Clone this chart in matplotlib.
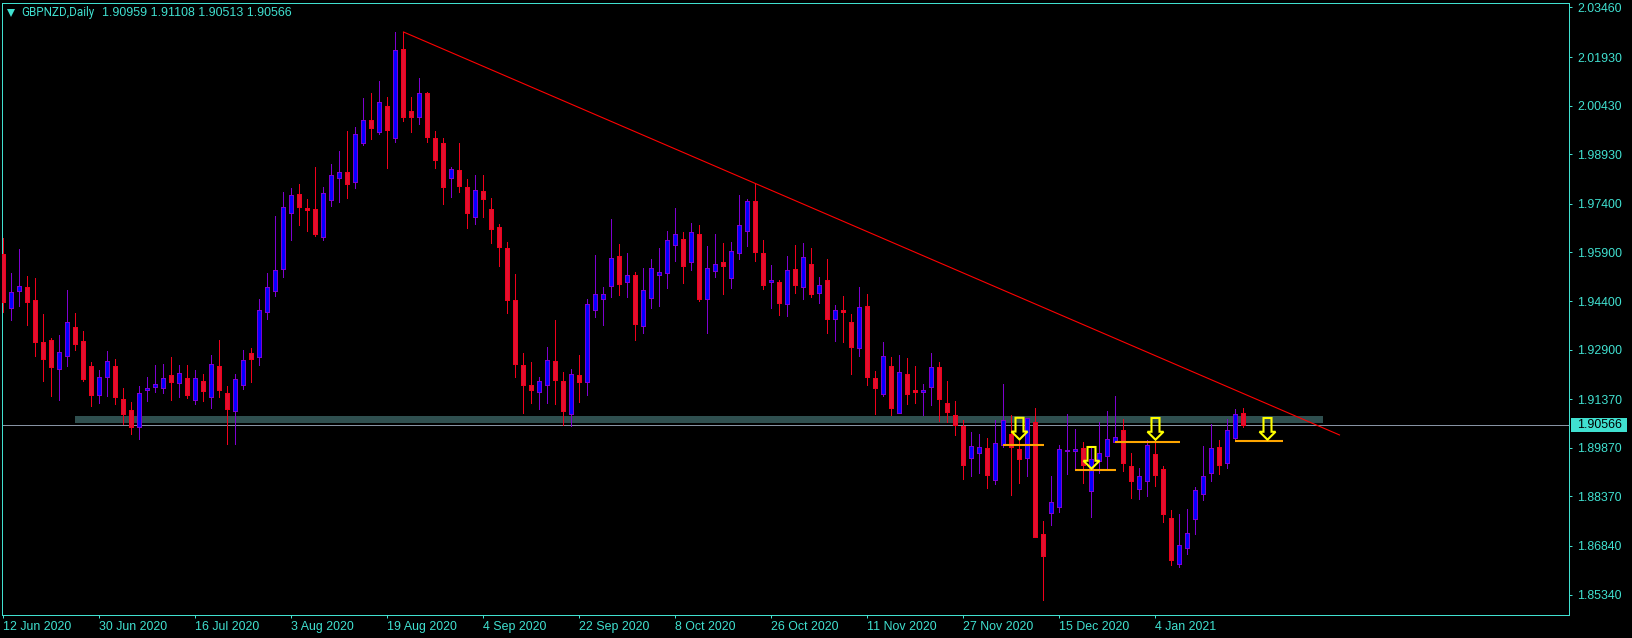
import numpy as np
import matplotlib
matplotlib.use('Agg')
import matplotlib.pyplot as plt
from matplotlib.lines import Line2D
from matplotlib.patches import Polygon, Rectangle

# daily candles
highs = [
    1.9635, 1.9526, 1.9601, 1.9517, 1.9511, 1.9400, 1.9326, 1.9335, 1.9474, 1.9403, 1.9348, 1.9252,
    1.9227, 1.9286, 1.9261, 1.9172, 1.9128, 1.9178, 1.9205, 1.9243, 1.9246, 1.9267, 1.9243, 1.9243,
    1.9227, 1.9215, 1.9273, 1.9320, 1.9178, 1.9215, 1.9289, 1.9295, 1.9446, 1.9526, 1.9702, 1.9777,
    1.9789, 1.9801, 1.9755, 1.9854, 1.9792, 1.9863, 1.9903, 1.9965, 1.9977, 2.0067, 2.0082, 2.0119,
    2.0070, 2.0270, 2.0270, 2.0070, 2.0128, 2.0085, 1.9965, 1.9943, 1.9854, 1.9928, 1.9817, 1.9829,
    1.9829, 1.9758, 1.9678, 1.9622, 1.9524, 1.9280, 1.9252, 1.9206, 1.9298, 1.9382, 1.9221, 1.9230,
    1.9273, 1.9446, 1.9582, 1.9483, 1.9693, 1.9616, 1.9588, 1.9530, 1.9542, 1.9570, 1.9604, 1.9656,
    1.9727, 1.9653, 1.9681, 1.9675, 1.9610, 1.9647, 1.9619, 1.9622, 1.9767, 1.9755, 1.9801, 1.9628,
    1.9551, 1.9505, 1.9579, 1.9613, 1.9619, 1.9604, 1.9514, 1.9570, 1.9428, 1.9455, 1.9400, 1.9483,
    1.9462, 1.9224, 1.9314, 1.9267, 1.9273, 1.9264, 1.9240, 1.9184, 1.9280, 1.9252, 1.9193, 1.9131,
    1.9073, 1.9036, 1.9030, 1.9017, 1.9073, 1.9184, 1.9088, 1.9008, 1.9079, 1.9110, 1.8761, 1.8900,
    1.8996, 1.9091, 1.9045, 1.9005, 1.8993, 1.9066, 1.9101, 1.9147, 1.9076, 1.8971, 1.8925, 1.9011,
    1.9011, 1.8931, 1.8795, 1.8783, 1.8798, 1.8866, 1.8993, 1.9061, 1.9011, 1.9076, 1.9107, 1.91108,
]
lows = [
    1.9407, 1.9381, 1.9425, 1.9366, 1.9270, 1.9193, 1.9147, 1.9135, 1.9240, 1.9289, 1.9193, 1.9116,
    1.9125, 1.9147, 1.9122, 1.9061, 1.9030, 1.9014, 1.9131, 1.9159, 1.9156, 1.9135, 1.9144, 1.9141,
    1.9122, 1.9131, 1.9110, 1.9144, 1.8999, 1.8999, 1.9169, 1.9190, 1.9243, 1.9385, 1.9456, 1.9514,
    1.9628, 1.9675, 1.9656, 1.9641, 1.9628, 1.9733, 1.9746, 1.9758, 1.9789, 1.9922, 1.9940, 1.9956,
    1.9851, 1.9931, 1.9996, 1.9962, 1.9986, 1.9931, 1.9851, 1.9740, 1.9761, 1.9776, 1.9665, 1.9678,
    1.9699, 1.9619, 1.9548, 1.9403, 1.9206, 1.9095, 1.9125, 1.9107, 1.9125, 1.9122, 1.9058, 1.9054,
    1.9128, 1.9150, 1.9391, 1.9366, 1.9453, 1.9459, 1.9453, 1.9320, 1.9341, 1.9419, 1.9425, 1.9480,
    1.9564, 1.9496, 1.9536, 1.9440, 1.9341, 1.9514, 1.9462, 1.9480, 1.9570, 1.9610, 1.9564, 1.9477,
    1.9419, 1.9397, 1.9394, 1.9465, 1.9446, 1.9452, 1.9434, 1.9341, 1.9317, 1.9314, 1.9215, 1.9270,
    1.9181, 1.9091, 1.9147, 1.9088, 1.9094, 1.9122, 1.9125, 1.9088, 1.9119, 1.9070, 1.9067, 1.9027,
    1.8891, 1.8900, 1.8909, 1.8863, 1.8875, 1.8990, 1.8841, 1.8878, 1.8900, 1.8713, 1.8517, 1.8749,
    1.8789, 1.8906, 1.8919, 1.8878, 1.8773, 1.8909, 1.8925, 1.9005, 1.8915, 1.8832, 1.8829, 1.8838,
    1.8869, 1.8758, 1.8625, 1.8619, 1.8659, 1.8721, 1.8826, 1.8885, 1.8906, 1.8925, 1.9011, 1.90513,
]
opens = [
    1.9585, 1.9420, 1.9472, 1.9482, 1.9443, 1.9314, 1.9320, 1.9231, 1.9271, 1.9360, 1.9317, 1.9240,
    1.9151, 1.9204, 1.9240, 1.9138, 1.9104, 1.9052, 1.9165, 1.9176, 1.9173, 1.9212, 1.9188, 1.9202,
    1.9133, 1.9193, 1.9145, 1.9240, 1.9156, 1.9102, 1.9182, 1.9280, 1.9268, 1.9405, 1.9470, 1.9540,
    1.9713, 1.9769, 1.9727, 1.9723, 1.9639, 1.9753, 1.9821, 1.9837, 1.9808, 1.9929, 1.9998, 1.9963,
    2.0041, 1.9944, 2.0217, 2.0026, 2.0009, 2.0081, 1.9942, 1.9927, 1.9821, 1.9843, 1.9791, 1.9700,
    1.9779, 1.9723, 1.9668, 1.9603, 1.9443, 1.9243, 1.9181, 1.9160, 1.9182, 1.9254, 1.9193, 1.9092,
    1.9212, 1.9191, 1.9413, 1.9447, 1.9487, 1.9579, 1.9500, 1.9520, 1.9364, 1.9450, 1.9521, 1.9525,
    1.9614, 1.9632, 1.9559, 1.9647, 1.9447, 1.9534, 1.9561, 1.9512, 1.9587, 1.9657, 1.9749, 1.9587,
    1.9500, 1.9499, 1.9432, 1.9539, 1.9484, 1.9554, 1.9466, 1.9505, 1.9386, 1.9412, 1.9375, 1.9296,
    1.9425, 1.9202, 1.9154, 1.9240, 1.9095, 1.9215, 1.9165, 1.9159, 1.9175, 1.9236, 1.9125, 1.9088,
    1.9054, 1.8954, 1.8972, 1.8985, 1.8889, 1.8996, 1.9030, 1.8983, 1.8954, 1.9067, 1.8721, 1.8787,
    1.8805, 1.8977, 1.8977, 1.8985, 1.8855, 1.8945, 1.8963, 1.9005, 1.9041, 1.8930, 1.8859, 1.8886,
    1.8968, 1.8921, 1.8769, 1.8629, 1.8679, 1.8768, 1.8845, 1.8910, 1.8989, 1.8939, 1.9018, 1.90959,
]
closes = [
    1.9438, 1.9467, 1.9485, 1.9438, 1.9315, 1.9262, 1.9237, 1.9282, 1.9374, 1.9308, 1.9199, 1.9151,
    1.9205, 1.9254, 1.9144, 1.9091, 1.9051, 1.9155, 1.9172, 1.9184, 1.9201, 1.9190, 1.9217, 1.9150,
    1.9201, 1.9162, 1.9245, 1.9165, 1.9107, 1.9198, 1.9257, 1.9261, 1.9411, 1.9482, 1.9535, 1.9729,
    1.9766, 1.9730, 1.9721, 1.9648, 1.9772, 1.9828, 1.9837, 1.9802, 1.9955, 1.9998, 1.9975, 2.0053,
    1.9968, 2.0214, 2.0008, 2.0008, 2.0081, 1.9946, 1.9876, 1.9793, 1.9847, 1.9796, 1.9712, 1.9782,
    1.9755, 1.9662, 1.9608, 1.9444, 1.9247, 1.9181, 1.9166, 1.9192, 1.9257, 1.9196, 1.9101, 1.9214,
    1.9190, 1.9430, 1.9461, 1.9461, 1.9572, 1.9493, 1.9519, 1.9369, 1.9473, 1.9541, 1.9529, 1.9627,
    1.9646, 1.9549, 1.9652, 1.9446, 1.9541, 1.9553, 1.9548, 1.9593, 1.9674, 1.9748, 1.9592, 1.9490,
    1.9505, 1.9434, 1.9535, 1.9490, 1.9575, 1.9462, 1.9488, 1.9385, 1.9411, 1.9406, 1.9298, 1.9421,
    1.9206, 1.9172, 1.9269, 1.9110, 1.9220, 1.9153, 1.9159, 1.9165, 1.9235, 1.9138, 1.9098, 1.9057,
    1.8934, 1.8992, 1.8989, 1.8903, 1.9001, 1.9072, 1.8990, 1.8952, 1.9078, 1.8713, 1.8654, 1.8819,
    1.8982, 1.8981, 1.8983, 1.8934, 1.8951, 1.8970, 1.9013, 1.9019, 1.8941, 1.8883, 1.8899, 1.8995,
    1.8903, 1.8784, 1.8641, 1.8686, 1.8723, 1.8856, 1.8899, 1.8985, 1.8934, 1.9041, 1.9090, 1.90566,
]

price_ticks = [2.0346, 2.0193, 2.0043, 1.9893, 1.9740, 1.9590, 1.9440, 1.9290, 1.9137, 1.8987, 1.8837, 1.8684, 1.8534]
date_labels = ['12 Jun 2020', '30 Jun 2020', '16 Jul 2020', '3 Aug 2020', '19 Aug 2020', '4 Sep 2020', '22 Sep 2020',
               '8 Oct 2020', '26 Oct 2020', '11 Nov 2020', '27 Nov 2020', '15 Dec 2020', '4 Jan 2021']
date_positions = [0, 12, 24, 36, 48, 60, 72, 84, 96, 108, 120, 132, 144]

last_price = 1.90566

# drawn objects
trend_x = [50, 167]
trend_y = [2.02704, 1.90266]
zone_x = [8.9, 164.9]
zone_y = [1.90645, 1.90852]
level_prices = [1.89957, 1.89185, 1.90050, 1.90080]
level_starts = [124.9, 133.9, 139.0, 153.9]
level_ends = [130.1, 139.1, 147.1, 160.0]
arrow_x = [127, 136, 144, 158]
arrow_tips = [1.90127, 1.89225, 1.90120, 1.90120]

TURQ = '#40e0d0'
PX_LW = 0.72  # one pixel at dpi 100

plt.rcParams['font.family'] = ['Liberation Sans', 'DejaVu Sans']
plt.rcParams['font.size'] = 8.9

W, H = 1633, 638
fig = plt.figure(figsize=(W / 100, H / 100), dpi=100, facecolor='black')
ax = fig.add_axes([2.5 / W, 1 - 614.5 / H, 1567 / W, 612 / H], facecolor='black')
ax.set_xlim(-0.125, 195.75)
ax.set_ylim(1.84725, 2.03614)

for s in ax.spines.values():
    s.set_color(TURQ)
    s.set_linewidth(PX_LW)

x = np.arange(len(closes))
o, h, l, c = map(np.array, (opens, highs, lows, closes))
up = c >= o

# background zone and last price line sit under the candles
ax.add_patch(Rectangle((zone_x[0], zone_y[0]), zone_x[1] - zone_x[0], zone_y[1] - zone_y[0],
                       facecolor='#2f4f4f', edgecolor='none', zorder=1))
ax.axhline(last_price, color='#8793a3', lw=PX_LW, zorder=1.5)

for mask, wick, edge, fill in [(up, '#7f00d0', '#7f00d0', '#0000ff'), (~up, '#f0001c', '#f0001c', '#e0102f')]:
    ax.vlines(x[mask], l[mask], h[mask], color=wick, lw=PX_LW, antialiased=False, zorder=2)
    ax.bar(x[mask], np.abs(c - o)[mask], bottom=np.minimum(o, c)[mask], width=0.5,
           facecolor=fill, edgecolor=edge, linewidth=PX_LW, antialiased=False, zorder=3)

ax.plot(trend_x, trend_y, color='#ff0000', lw=0.8, zorder=4)
ax.hlines(level_prices, level_starts, level_ends, color='#ffa500', lw=1.5, zorder=5)

# hollow arrows above the levels
for ax_x, tip in zip(arrow_x, arrow_tips):
    top = tip + 0.0067
    neck = tip + 0.00245
    pts = [(ax_x, tip), (ax_x + 1.0, neck), (ax_x + 0.5, neck), (ax_x + 0.5, top),
           (ax_x - 0.5, top), (ax_x - 0.5, neck), (ax_x - 1.0, neck)]
    ax.add_patch(Polygon(pts, closed=True, fill=False, edgecolor='#ffff00', linewidth=1.5,
                         joinstyle='miter', zorder=6))

ax.yaxis.tick_right()
ax.set_yticks(price_ticks)
ax.set_yticklabels([f'{p:.5f}' for p in price_ticks])
ax.tick_params(axis='y', colors=TURQ, length=2.2, width=PX_LW, pad=3.4)
ax.set_xticks(date_positions)
ax.set_xticklabels(date_labels, ha='left')
ax.tick_params(axis='x', colors=TURQ, length=2.2, width=PX_LW, pad=2.7)

# current price tag
ax.add_patch(Rectangle((1.0008, last_price - 0.00216), 0.0357, 0.00432, transform=ax.get_yaxis_transform(),
                       facecolor=TURQ, edgecolor='none', clip_on=False, zorder=7))
ax.text(1.0047, last_price, f'{last_price:.5f}', transform=ax.get_yaxis_transform(), color='black',
        va='center', ha='left', zorder=8)

# header
fig.add_artist(Line2D([11 / W], [1 - 12.5 / H], marker='v', markersize=5.5, color=TURQ, markeredgewidth=0,
                      transform=fig.transFigure))
fig.text(21.3 / W, 1 - 12.7 / H, 'GBPNZD,Daily', color=TURQ, va='center', ha='left', family='Roboto', size=8.4)
fig.text(102.3 / W, 1 - 12.7 / H, '1.90959 1.91108 1.90513 1.90566', color=TURQ, va='center', ha='left')

fig.savefig('out.png', dpi=100, facecolor='black')
